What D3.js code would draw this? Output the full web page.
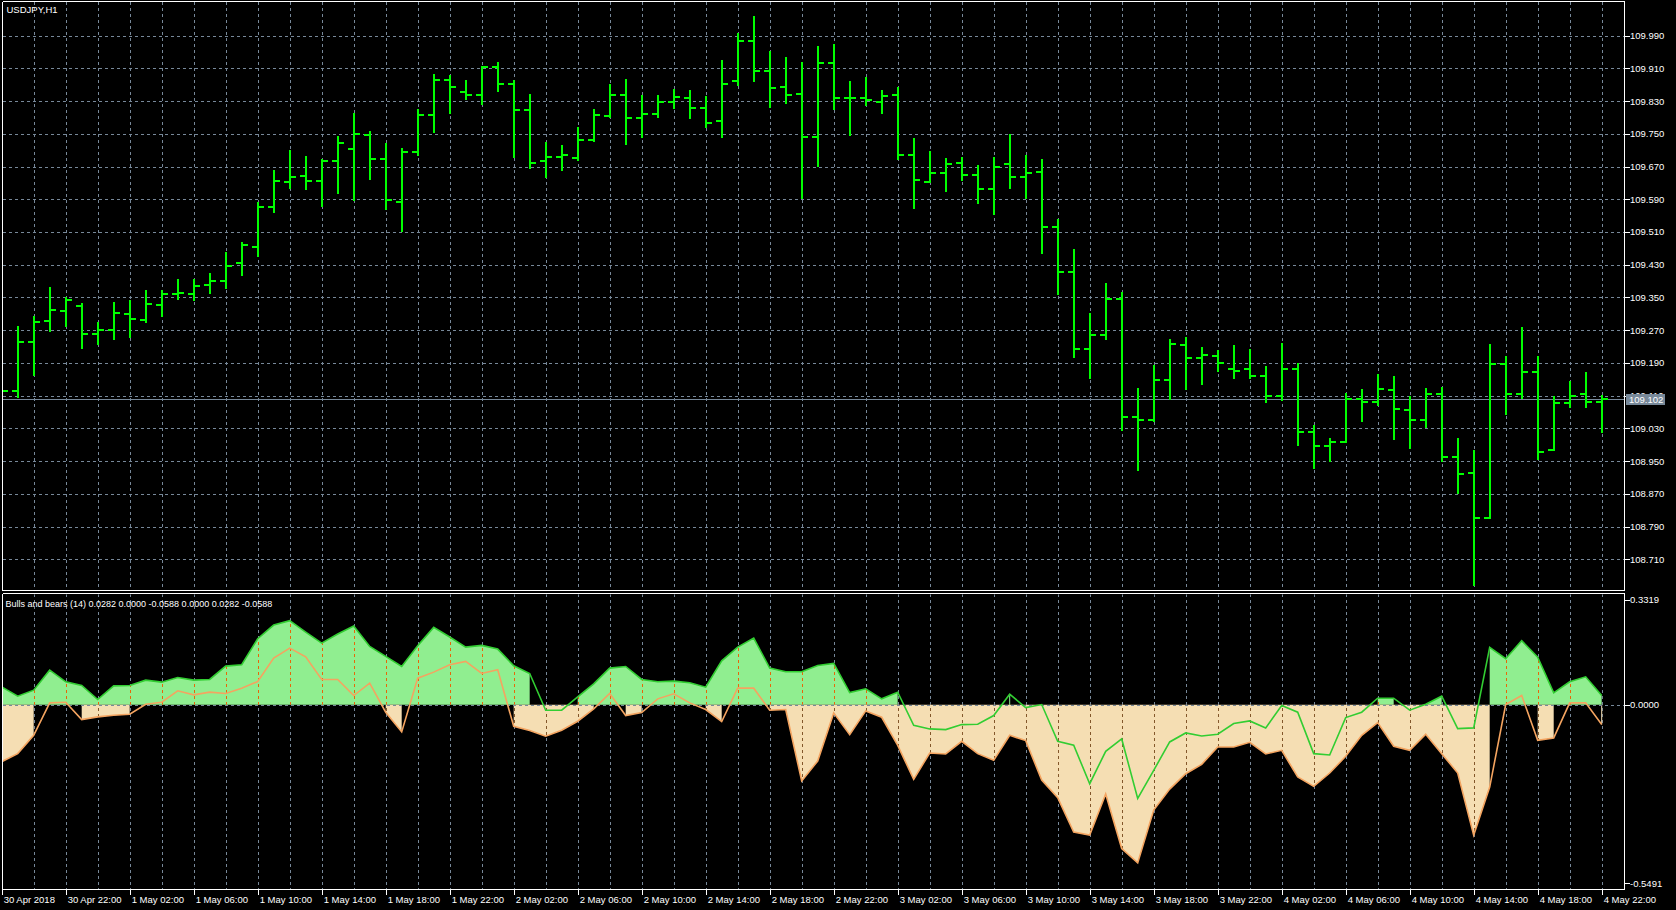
<!DOCTYPE html>
<html><head><meta charset="utf-8">
<script src="https://cdn.jsdelivr.net/npm/d3@7"></script>
<style>
html,body{margin:0;padding:0;background:#000;overflow:hidden;}
svg{display:block;}
text{font-family:"Liberation Sans",Arial,sans-serif;fill:#ffffff;}
</style></head><body>
<svg id="c" width="1676" height="910"></svg>
<script>
// ---------------- DATA ----------------
const symbolTitle = "USDJPY,H1";
const indicatorTitle = "Bulls and bears (14) 0.0282 0.0000 -0.0588 0.0000 0.0282 -0.0588";
const timeLabels = ["30 Apr 2018","30 Apr 22:00","1 May 02:00","1 May 06:00","1 May 10:00","1 May 14:00","1 May 18:00","1 May 22:00","2 May 02:00","2 May 06:00","2 May 10:00","2 May 14:00","2 May 18:00","2 May 22:00","3 May 02:00","3 May 06:00","3 May 10:00","3 May 14:00","3 May 18:00","3 May 22:00","4 May 02:00","4 May 06:00","4 May 10:00","4 May 14:00","4 May 18:00","4 May 22:00"];
const priceTicks = [109.990,109.910,109.830,109.750,109.670,109.590,109.510,109.430,109.350,109.270,109.190,109.110,109.030,108.950,108.870,108.790,108.710];
const indicatorTicks = [0.3319, 0.0000, -0.5491];
const lastPrice = 109.102;

const opens = [109.200,109.122,109.242,109.293,109.318,109.330,109.261,109.271,109.310,109.296,
109.332,109.359,109.359,109.381,109.391,109.433,109.474,109.572,109.633,109.648,
109.635,109.684,109.714,109.748,109.689,109.584,109.706,109.797,109.882,109.853,
109.846,109.913,109.872,109.807,109.684,109.694,109.692,109.736,109.794,109.846,
109.789,109.799,109.828,109.838,109.814,109.782,109.880,109.978,109.904,109.865,
109.848,109.743,109.924,109.838,109.838,109.828,109.846,109.697,109.633,109.653,
109.679,109.650,109.616,109.675,109.645,109.657,109.521,109.413,109.225,109.259,
109.347,109.059,109.051,109.149,109.235,109.203,109.208,109.174,109.174,109.157,
109.108,109.176,109.022,108.986,108.997,109.103,109.095,109.125,109.076,109.051,
109.115,108.959,108.922,108.810,109.187,109.113,109.169,108.976,109.093,109.115,109.095];
const highs = [109.306,109.277,109.302,109.372,109.349,109.334,109.288,109.337,109.341,109.366,
109.366,109.393,109.393,109.408,109.458,109.483,109.580,109.658,109.708,109.693,
109.686,109.742,109.798,109.754,109.724,109.712,109.808,109.894,109.891,109.878,
109.913,109.922,109.880,109.845,109.728,109.720,109.764,109.808,109.869,109.882,
109.842,109.842,109.857,109.855,109.840,109.928,109.993,110.035,109.950,109.935,
109.923,109.962,109.967,109.877,109.886,109.855,109.862,109.737,109.705,109.688,
109.690,109.671,109.690,109.746,109.695,109.685,109.539,109.466,109.310,109.383,
109.360,109.126,109.182,109.245,109.250,109.226,109.218,109.232,109.222,109.179,
109.236,109.188,109.036,109.004,109.114,109.124,109.161,109.156,109.106,109.126,
109.129,109.004,108.975,109.234,109.205,109.276,109.205,109.106,109.144,109.166,109.109];
const lows = [109.082,109.106,109.161,109.269,109.280,109.227,109.236,109.249,109.253,109.291,
109.305,109.347,109.345,109.362,109.372,109.406,109.452,109.560,109.618,109.616,
109.574,109.606,109.588,109.640,109.565,109.513,109.699,109.755,109.802,109.836,
109.824,109.855,109.694,109.667,109.645,109.662,109.687,109.733,109.792,109.726,
109.743,109.792,109.814,109.789,109.767,109.743,109.870,109.880,109.816,109.826,
109.594,109.671,109.811,109.748,109.821,109.802,109.689,109.569,109.631,109.611,
109.638,109.582,109.555,109.618,109.594,109.459,109.359,109.205,109.154,109.249,
109.027,108.928,109.049,109.101,109.127,109.139,109.171,109.154,109.154,109.095,
109.100,108.990,108.932,108.950,108.997,109.049,109.087,109.005,108.983,109.034,
108.951,108.873,108.648,108.810,109.066,109.105,108.956,108.976,109.083,109.083,109.020];
const closes = [109.122,109.242,109.291,109.320,109.345,109.261,109.271,109.313,109.298,109.335,
109.359,109.362,109.379,109.389,109.428,109.477,109.572,109.635,109.645,109.635,
109.684,109.728,109.750,109.689,109.587,109.706,109.797,109.882,109.865,109.846,
109.913,109.872,109.807,109.679,109.694,109.699,109.736,109.797,109.846,109.789,
109.799,109.828,109.841,109.814,109.777,109.872,109.978,109.904,109.863,109.846,
109.743,109.924,109.838,109.838,109.833,109.843,109.697,109.636,109.653,109.677,
109.650,109.616,109.670,109.645,109.653,109.521,109.413,109.225,109.259,109.347,
109.059,109.051,109.149,109.237,109.203,109.210,109.191,109.171,109.159,109.108,
109.174,109.022,108.988,108.997,109.103,109.095,109.127,109.078,109.051,109.115,
108.961,108.919,108.810,109.187,109.113,109.169,108.973,109.093,109.108,109.095,109.102];

const bulls = [0.054,0.026,0.044,0.104,0.069,0.058,0.016,0.057,0.058,0.074,
0.068,0.082,0.074,0.076,0.116,0.120,0.198,0.239,0.252,0.218,
0.185,0.212,0.236,0.175,0.145,0.115,0.177,0.232,0.203,0.173,
0.178,0.167,0.117,0.094,-0.016,-0.016,0.024,0.063,0.110,0.115,
0.076,0.069,0.071,0.066,0.053,0.132,0.173,0.200,0.110,0.099,
0.099,0.118,0.124,0.037,0.048,0.018,0.038,-0.061,-0.072,-0.074,
-0.059,-0.058,-0.032,0.032,-0.008,0.001,-0.109,-0.121,-0.236,-0.139,
-0.102,-0.280,-0.196,-0.111,-0.084,-0.093,-0.088,-0.056,-0.048,-0.069,
-0.002,-0.022,-0.146,-0.150,-0.038,-0.022,0.020,0.020,-0.016,0.002,
0.026,-0.071,-0.069,0.172,0.138,0.192,0.143,0.036,0.069,0.084,0.0282];
const bears = [-0.170,-0.146,-0.091,0.006,0.008,-0.044,-0.036,-0.031,-0.028,0.002,
0.008,0.042,0.030,0.038,0.034,0.050,0.070,0.140,0.170,0.144,
0.076,0.076,0.028,0.065,-0.022,-0.081,0.080,0.098,0.120,0.130,
0.094,0.105,-0.064,-0.077,-0.094,-0.076,-0.049,-0.012,0.034,-0.032,
-0.023,0.018,0.033,0.006,-0.014,-0.050,0.050,0.050,-0.016,-0.014,
-0.228,-0.168,-0.024,-0.089,-0.018,-0.037,-0.121,-0.223,-0.144,-0.147,
-0.109,-0.146,-0.166,-0.091,-0.107,-0.225,-0.278,-0.381,-0.390,-0.267,
-0.430,-0.473,-0.315,-0.252,-0.206,-0.178,-0.126,-0.126,-0.112,-0.147,
-0.136,-0.216,-0.244,-0.204,-0.154,-0.091,-0.053,-0.124,-0.136,-0.088,
-0.146,-0.204,-0.390,-0.246,0.001,0.028,-0.106,-0.099,0.006,0.006,-0.0588];

// ---------------- LAYOUT ----------------
const n = opens.length;
const axisX = 1624.5, leftX = 2.5;
const priceBottom = 590, indTop = 594, indBottom = 888.3, frameBottom = 889.5;
const GRID = "#778899";
const BAR = "#00ff00";

const svg = d3.select("#c");
svg.append("rect").attr("width",1676).attr("height",910).attr("fill","#000");

const x = d3.scaleLinear().domain([0, n - 1]).range([1.7, 1601.7]);
const yP = d3.scaleLinear().domain([108.635, 110.077]).range([priceBottom, 0]);
const yI = d3.scaleLinear().domain([indicatorTicks[2], indicatorTicks[0]]).range([indBottom, indTop]);
const px = v => Math.round(v) + 0.5;

const defs = svg.append("defs");
defs.append("clipPath").attr("id","clipP").append("rect").attr("x",3).attr("y",2).attr("width",axisX-3).attr("height",priceBottom-2);
defs.append("clipPath").attr("id","clipI").append("rect").attr("x",3).attr("y",indTop+0.5).attr("width",axisX-3).attr("height",frameBottom-indTop-0.5);

const idx = d3.range(n);
const gridIdx = idx.filter(i => i % 2 === 0 && i > 0);

// ---------------- PRICE PANEL ----------------
const gP = svg.append("g").attr("clip-path","url(#clipP)");
gP.selectAll("line.hg").data(priceTicks).join("line")
  .attr("x1",3).attr("x2",axisX).attr("y1",d=>px(yP(d))).attr("y2",d=>px(yP(d)))
  .attr("stroke",GRID).attr("stroke-dasharray","3,3");
gP.selectAll("line.vg").data(gridIdx).join("line")
  .attr("x1",d=>px(x(d))).attr("x2",d=>px(x(d))).attr("y1",2).attr("y2",priceBottom)
  .attr("stroke",GRID).attr("stroke-dasharray","3,3");
// current price line
gP.append("line").attr("x1",3).attr("x2",axisX)
  .attr("y1",px(yP(lastPrice))).attr("y2",px(yP(lastPrice)))
  .attr("stroke",GRID).attr("stroke-width",1);

const bars = gP.selectAll("g.bar").data(idx).join("g").attr("shape-rendering","crispEdges");
bars.append("line")
  .attr("x1",i=>Math.round(x(i))).attr("x2",i=>Math.round(x(i)))
  .attr("y1",i=>Math.round(yP(highs[i]))-1).attr("y2",i=>Math.round(yP(lows[i]))+1)
  .attr("stroke",BAR).attr("stroke-width",2);
bars.append("line")
  .attr("x1",i=>Math.round(x(i))-6).attr("x2",i=>Math.round(x(i)))
  .attr("y1",i=>Math.round(yP(opens[i]))).attr("y2",i=>Math.round(yP(opens[i])))
  .attr("stroke",BAR).attr("stroke-width",2);
bars.append("line")
  .attr("x1",i=>Math.round(x(i))).attr("x2",i=>Math.round(x(i))+6)
  .attr("y1",i=>Math.round(yP(closes[i]))).attr("y2",i=>Math.round(yP(closes[i])))
  .attr("stroke",BAR).attr("stroke-width",2);

// ---------------- INDICATOR PANEL ----------------
const gI = svg.append("g").attr("clip-path","url(#clipI)");
const y0 = yI(0);
gI.selectAll("line.vg").data(gridIdx).join("line")
  .attr("x1",d=>px(x(d))).attr("x2",d=>px(x(d))).attr("y1",indTop).attr("y2",frameBottom)
  .attr("stroke",GRID).attr("stroke-dasharray","3,3");

const bullPts = idx.map(i => ({i, v: bulls[i]}));
const bearPts = idx.map(i => ({i, v: bears[i]}));
const areaBull = d3.area().defined(d => d.v > 0).x(d => x(d.i)).y0(y0).y1(d => yI(d.v));
const areaBear = d3.area().defined(d => d.v < 0).x(d => x(d.i)).y0(y0).y1(d => yI(d.v));

const fills = [
  {id:"fillBull", pts:bullPts, area:areaBull, test:v=>v>0, color:"#90ee90", xor:"rgb(231,102,9)"},
  {id:"fillBear", pts:bearPts, area:areaBear, test:v=>v<0, color:"#f5deb3", xor:"rgb(130,86,42)"}
];
fills.forEach(f => {
  const dPath = f.area(f.pts);
  gI.append("path").attr("d", dPath).attr("fill", f.color);
  // isolated single-bar fills drawn as a thin column
  const iso = idx.filter(i => f.test(f.pts[i].v) && !(i>0 && f.test(f.pts[i-1].v)) && !(i<n-1 && f.test(f.pts[i+1].v)));
  gI.selectAll(null).data(iso).join("line")
    .attr("x1",i=>x(i)).attr("x2",i=>x(i)).attr("y1",y0).attr("y2",i=>yI(f.pts[i].v))
    .attr("stroke",f.color).attr("stroke-width",1);
  defs.append("clipPath").attr("id", f.id).append("path").attr("d", dPath);
  gI.append("g").attr("clip-path", `url(#${f.id})`)
    .selectAll("line").data(gridIdx).join("line")
    .attr("x1",d=>px(x(d))).attr("x2",d=>px(x(d))).attr("y1",indTop).attr("y2",frameBottom)
    .attr("stroke",f.xor).attr("stroke-dasharray","3,3");
});
// zero line
gI.append("line").attr("x1",3).attr("x2",axisX).attr("y1",px(y0)).attr("y2",px(y0))
  .attr("stroke",GRID).attr("stroke-dasharray","3,3");

const line = d3.line().x(d => x(d.i)).y(d => yI(d.v));
gI.append("path").attr("d", line(bearPts)).attr("fill","none").attr("stroke","#f4a460").attr("stroke-width",1.6);
gI.append("path").attr("d", line(bullPts)).attr("fill","none").attr("stroke","#32cd32").attr("stroke-width",1.6);

// ---------------- FRAMES ----------------
const frame = svg.append("g").attr("stroke","#ffffff").attr("stroke-width",1).attr("shape-rendering","crispEdges");
frame.append("line").attr("x1",leftX).attr("x2",axisX).attr("y1",1.5).attr("y2",1.5);
frame.append("line").attr("x1",leftX).attr("x2",axisX).attr("y1",590.5).attr("y2",590.5);
frame.append("line").attr("x1",leftX).attr("x2",axisX).attr("y1",593.5).attr("y2",593.5);
frame.append("line").attr("x1",leftX).attr("x2",axisX).attr("y1",frameBottom).attr("y2",frameBottom);
frame.append("line").attr("x1",leftX).attr("x2",leftX).attr("y1",1.5).attr("y2",590.5);
frame.append("line").attr("x1",leftX).attr("x2",leftX).attr("y1",593.5).attr("y2",frameBottom);
frame.append("line").attr("x1",axisX).attr("x2",axisX).attr("y1",1.5).attr("y2",590.5);
frame.append("line").attr("x1",axisX).attr("x2",axisX).attr("y1",593.5).attr("y2",frameBottom);

// ---------------- AXES ----------------
const fs = "9.5px";
// price axis
const pAx = svg.append("g");
pAx.selectAll("line").data(priceTicks).join("line")
  .attr("x1",axisX).attr("x2",axisX+5).attr("y1",d=>px(yP(d))).attr("y2",d=>px(yP(d)))
  .attr("stroke","#fff").attr("shape-rendering","crispEdges");
pAx.selectAll("text").data(priceTicks).join("text")
  .attr("x",1630).attr("y",d=>yP(d)+3.5).style("font-size",fs).text(d=>d.toFixed(3));
// last price label
const lpY = yP(lastPrice);
svg.append("rect").attr("x",1626).attr("y",Math.round(lpY)-5).attr("width",39).attr("height",11).attr("fill",GRID);
svg.append("text").attr("x",1629).attr("y",lpY+3.8).style("font-size",fs).style("fill","#ffffff").text(lastPrice.toFixed(3));

// indicator axis
const indLabelY = [599.5, y0, 883];
const iAx = svg.append("g");
iAx.selectAll("line").data(indicatorTicks).join("line")
  .attr("x1",axisX).attr("x2",axisX+5).attr("y1",(d,k)=>px(indLabelY[k])).attr("y2",(d,k)=>px(indLabelY[k]))
  .attr("stroke","#fff").attr("shape-rendering","crispEdges");
iAx.selectAll("text").data(indicatorTicks).join("text")
  .attr("x",1630).attr("y",(d,k)=>indLabelY[k]+3.5).style("font-size",fs).text(d=>d.toFixed(4));

// time axis
const tAx = svg.append("g");
tAx.selectAll("line").data(timeLabels).join("line")
  .attr("x1",(d,k)=>px(x(k*4))).attr("x2",(d,k)=>px(x(k*4)))
  .attr("y1",frameBottom).attr("y2",frameBottom+5)
  .attr("stroke","#fff").attr("shape-rendering","crispEdges");
tAx.selectAll("text").data(timeLabels).join("text")
  .attr("x",(d,k)=>Math.max(3, x(k*4)+2)).attr("y",902.5).style("font-size",fs).text(d=>d);

// titles
svg.append("text").attr("x",6.5).attr("y",12.5).style("font-size",fs).text(symbolTitle);
svg.append("text").attr("x",5.5).attr("y",607).style("font-size","9px").text(indicatorTitle);
</script>
</body></html>
